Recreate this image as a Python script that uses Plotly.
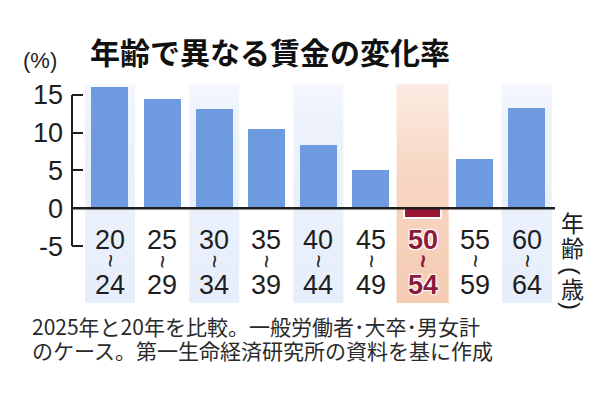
import plotly.graph_objects as go

# ---- data ----
age_from = ["20", "25", "30", "35", "40", "45", "50", "55", "60"]
age_to = ["24", "29", "34", "39", "44", "49", "54", "59", "64"]
change_pct = [16.0, 14.5, 13.1, 10.5, 8.4, 5.1, -1.3, 6.5, 13.3]
y_ticks = [-5, 0, 5, 10, 15]
y_tick_text = ["-5", "0", "5", "10", "15"]
highlight_idx = 6
blue_band_idx = [0, 2, 4, 8]

title_text = "年齢で異なる賃金の変化率"
unit_text = "(%)"
axis_chars = ["年", "齢", "(", "歳", ")"]
note_lines = ["2025年と20年を比較。一般労働者･大卒･男女計",
              "のケース。第一生命経済研究所の資料を基に作成"]

# ---- layout constants ----
W, H = 616, 394
ML, MR, MT, MB = 72, 61, 84, 91
PW, PH = W - ML - MR, H - MT - MB
Y_MIN, Y_MAX = -12.53, 16.44
X_MIN, X_MAX = -0.729, 8.541
BLUE = "#6e9ae0"
RED = "#9a1535"
LABEL_RED = "#8c1a3a"
INK = "#1e1e1e"
JP = "Noto Sans CJK JP"
NUM = "Liberation Sans, Arial, sans-serif"


def px(xp):
    return (xp - ML) / PW


def py(yp):
    return (H - MB - yp) / PH


xs = list(range(len(change_pct)))
fig = go.Figure()


# background bands (gradient) on base axes
def band(i, half, scale):
    fig.add_trace(go.Scatter(
        x=[i - half, i + half, i + half, i - half, i - half],
        y=[Y_MIN, Y_MIN, Y_MAX, Y_MAX, Y_MIN],
        mode="lines", line=dict(width=0), fill="toself",
        fillgradient=dict(type="vertical", colorscale=scale),
        hoverinfo="skip", showlegend=False, xaxis="x", yaxis="y"))


for i in blue_band_idx:
    band(i, 0.48, [[0, "#e7eefb"], [0.85, "#edf2fc"], [1, "#f5f8fe"]])
band(highlight_idx, 0.5, [[0, "#f5cbb2"], [0.6, "#f7d6c3"], [1, "#fcece3"]])

# bars on overlaying axes so they sit above the bands
colors = [RED if i == highlight_idx else BLUE for i in xs]
line_w = [2 if i == highlight_idx else 0 for i in xs]
fig.add_trace(go.Bar(
    x=xs, y=change_pct, width=0.71, xaxis="x2", yaxis="y2",
    marker=dict(color=colors, line=dict(color="white", width=line_w)),
    hoverinfo="skip", showlegend=False))

# zero line and y axis line
fig.add_shape(type="line", xref="paper", yref="y", x0=0, x1=1, y0=0, y1=0,
              line=dict(color=INK, width=2.5), layer="above")
fig.add_shape(type="line", xref="paper", yref="y", x0=0, x1=0,
              y0=min(y_ticks), y1=max(y_ticks),
              line=dict(color=INK, width=2), layer="above")

# x category labels
WHITE_EDGE = ("1px 1px 1px white, -1px -1px 1px white, "
              "1px -1px 1px white, -1px 1px 1px white")
for i in xs:
    hl = i == highlight_idx
    col = LABEL_RED if hl else INK
    f = dict(family=NUM, size=27, color=col, weight="bold" if hl else "normal")
    if hl:
        f["shadow"] = WHITE_EDGE
    for txt, yp in ((age_from[i], 240), (age_to[i], 285)):
        fig.add_annotation(x=i, y=py(yp), xref="x", yref="paper", text=txt,
                           showarrow=False, xanchor="center", yanchor="middle",
                           font=f)
    fig.add_annotation(x=i, y=py(261), xref="x", yref="paper", text="~",
                       showarrow=False, xanchor="center", yanchor="middle",
                       textangle=90,
                       font=dict(family=NUM, size=23, color=col,
                                 weight="bold" if hl else "normal"))

# vertical axis title on right (parentheses turned for vertical writing)
char_y = [222, 247, 271, 288, 306]
for ch, yy in zip(axis_chars, char_y):
    turned = ch in ("(", ")")
    fig.add_annotation(x=px(572), y=py(yy), xref="paper", yref="paper",
                       text=ch, showarrow=False, xanchor="center",
                       yanchor="middle", textangle=90 if turned else 0,
                       font=dict(family=NUM if turned else JP,
                                 size=24 if turned else 23, color=INK))

fig.add_annotation(x=px(270), y=py(51), xref="paper", yref="paper",
                   text=title_text, showarrow=False, xanchor="center",
                   yanchor="middle",
                   font=dict(family=JP, size=30, color="#111", weight="bold"))
fig.add_annotation(x=px(40), y=py(61), xref="paper", yref="paper",
                   text=unit_text, showarrow=False, xanchor="center",
                   yanchor="middle",
                   font=dict(family=NUM, size=22, color=INK))
for line, yy in zip(note_lines, [326, 350]):
    fig.add_annotation(x=px(30), y=py(yy), xref="paper", yref="paper",
                       text=line, showarrow=False, xanchor="left",
                       yanchor="middle",
                       font=dict(family=JP, size=21, color="#2a2a2a"))

axis_common = dict(showgrid=False, zeroline=False, showline=False,
                   fixedrange=True)
fig.update_layout(
    width=W, height=H,
    margin=dict(l=ML, r=MR, t=MT, b=MB),
    paper_bgcolor="white", plot_bgcolor="white",
    bargap=0, showlegend=False,
    xaxis=dict(range=[X_MIN, X_MAX], showticklabels=False, ticks="",
               **axis_common),
    yaxis=dict(range=[Y_MIN, Y_MAX], tickvals=y_ticks, ticktext=y_tick_text,
               ticks="inside", ticklen=11, tickwidth=2, tickcolor=INK,
               ticklabelstandoff=8,
               tickfont=dict(family=NUM, size=27, color=INK), **axis_common),
    xaxis2=dict(range=[X_MIN, X_MAX], overlaying="x", showticklabels=False,
                ticks="", **axis_common),
    yaxis2=dict(range=[Y_MIN, Y_MAX], overlaying="y", showticklabels=False,
                ticks="", **axis_common),
)

fig.write_html("out.html", config={"displayModeBar": False},
               post_script="document.body.style.margin='0';")
